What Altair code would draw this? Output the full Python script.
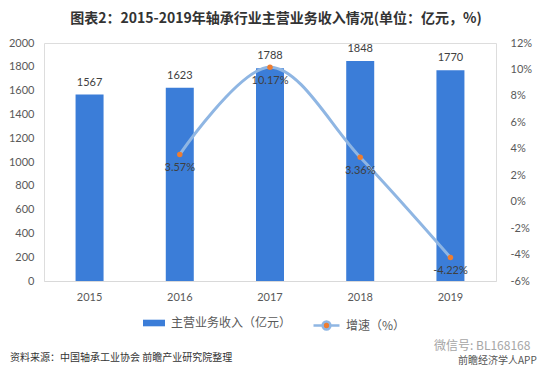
import altair as alt
import pandas as pd

years = ["2015", "2016", "2017", "2018", "2019"]
revenue = [1567, 1623, 1788, 1848, 1770]
growth_years = ["2016", "2017", "2018", "2019"]
growth = [3.57, 10.17, 3.36, -4.22]
left_ticks = [0, 200, 400, 600, 800, 1000, 1200, 1400, 1600, 1800, 2000]
right_ticks = [-6, -4, -2, 0, 2, 4, 6, 8, 10, 12]

bar_name = "主营业务收入（亿元）"
line_name = "增速（%）"

df_bar = pd.DataFrame({"year": years, "revenue": revenue, "s": bar_name})
df_line = pd.DataFrame({"year": growth_years, "growth": growth, "s": line_name,
                        "lbl": [f"{g:.2f}%" for g in growth]})

FONT = "Noto Sans CJK SC"
NUMF = "Lato"
BAR_C = "#3b7dd8"
LINE_C = "#8fb6e3"
DOT_C = "#ed7d31"

x_enc = alt.X("year:N", sort=years, title=None,
              scale=alt.Scale(domain=years, paddingInner=0.69, paddingOuter=0.35),
              axis=alt.Axis(labelAngle=0, ticks=False, domainColor="#d9d9d9",
                            labelColor="#595959", labelFontSize=11, labelPadding=10,
                            labelFont=NUMF))

y_left = alt.Y("revenue:Q", title=None,
               scale=alt.Scale(domain=[0, 2000]),
               axis=alt.Axis(values=left_ticks, grid=False, domain=False, format="d",
                             ticks=False, labelColor="#595959", labelFontSize=11,
                             labelPadding=10, labelFont=NUMF, labelOverlap=False,
                             labelBound=False))

bars = alt.Chart(df_bar).mark_bar(size=28).encode(
    x=x_enc, y=y_left,
    fill=alt.Fill("s:N", scale=alt.Scale(domain=[bar_name], range=[BAR_C]),
                  legend=alt.Legend(title=None, orient="none", legendX=98, legendY=268,
                                    symbolType="M-1,-0.3H1V0.3H-1Z", symbolSize=484,
                                    labelFontSize=12, labelColor="#595959", labelFont=FONT,
                                    labelOffset=5)))

bar_text = alt.Chart(df_bar).mark_text(baseline="bottom", dy=-7, fontSize=11,
                                       color="#404040", font=NUMF).encode(
    x=x_enc, y=y_left, text="revenue:Q")

left = alt.layer(bars, bar_text)

y_right = alt.Y("growth:Q", title=None,
                scale=alt.Scale(domain=[-6, 12]),
                axis=alt.Axis(orient="right", values=right_ticks, grid=False,
                              domain=False, ticks=False, labelColor="#595959",
                              labelFontSize=11, labelPadding=14, labelFont=NUMF,
                              labelOverlap=False, labelBound=False,
                              labelExpr="datum.value + '%'"))

line = alt.Chart(df_line).mark_line(interpolate="catmull-rom", strokeWidth=3).encode(
    x=x_enc, y=y_right,
    stroke=alt.Stroke("s:N", scale=alt.Scale(domain=[line_name], range=[LINE_C]),
                      legend=alt.Legend(title=None, orient="none", legendX=268, legendY=268,
                                        symbolType="M-1,0H-0.3M0.3,0H1M0.3,0A0.3,0.3 0 1 1 -0.3,0A0.3,0.3 0 1 1 0.3,0Z",
                                        symbolSize=676, symbolStrokeWidth=2.5,
                                        symbolFillColor=DOT_C,
                                        labelFontSize=12, labelColor="#595959",
                                        labelFont=FONT, labelOffset=5)))

pts = alt.Chart(df_line).mark_point(filled=True, size=30, opacity=1, color=DOT_C).encode(
    x=x_enc, y=y_right)

line_text = alt.Chart(df_line).mark_text(baseline="top", dy=8, fontSize=11,
                                         color="#404040", font=NUMF).encode(
    x=x_enc, y=y_right, text="lbl:N")

right = alt.layer(line, pts, line_text)

notes = pd.DataFrame({"t": ["资料来源：中国轴承工业协会 前瞻产业研究院整理"]})
source = alt.Chart(notes).mark_text(align="left", baseline="middle", fontSize=10,
                                    color="#333333", font=FONT).encode(
    x=alt.value(-34), y=alt.value(315), text="t:N")

wm = pd.DataFrame({"t": ["微信号: BL168168"]})
wm1 = alt.Chart(wm).mark_text(align="left", baseline="middle", fontSize=12,
                              color="#a6a6a6", font=FONT).encode(
    x=alt.value(390), y=alt.value(303), text="t:N")
wm2d = pd.DataFrame({"t": ["前瞻经济学人APP"]})
wm2 = alt.Chart(wm2d).mark_text(align="left", baseline="middle", fontSize=10,
                                color="#555555", font=FONT).encode(
    x=alt.value(414), y=alt.value(318), text="t:N")

chart = alt.layer(left, right, source, wm1, wm2).resolve_scale(
    y="independent", fill="independent", stroke="independent"
).properties(
    width=452, height=238,
    autosize=alt.AutoSizeParams(type="none"),
    padding={"left": 36, "top": 35, "right": 52, "bottom": 85},
    title=alt.TitleParams("图表2：2015-2019年轴承行业主营业务收入情况(单位：亿元，%)",
                          font=FONT, fontSize=14, fontWeight="bold", color="#333333",
                          anchor="middle", offset=11, dx=6),
).configure_view(stroke=None).configure(background="white")

chart.save("out.html", embed_options={"renderer": "svg", "actions": False})
